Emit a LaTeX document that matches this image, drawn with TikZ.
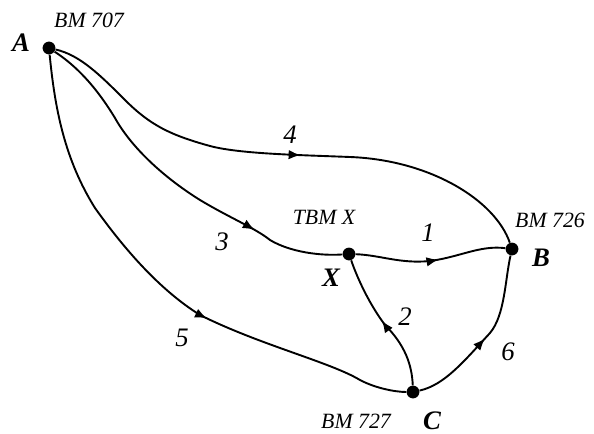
\documentclass[tikz,border=0pt]{standalone}
\usepackage{fontspec}
\setmainfont{Liberation Serif}
\usetikzlibrary{arrows.meta,decorations.markings}

\begin{document}
\begin{tikzpicture}[x=0.025cm,y=-0.025cm,>=Latex,
 pt/.style={circle,fill=black,inner sep=0pt,minimum size=0.32cm},
 bm/.style={font=\fontsize{15.5}{18}\selectfont\itshape,inner sep=0.5pt},
 num/.style={font=\fontsize{19}{22}\selectfont\itshape,inner sep=0.5pt},
 ltr/.style={font=\fontsize{19}{22}\selectfont\bfseries\itshape,inner sep=0.5pt},
 leg/.style={line width=1.35pt,postaction={decorate},
  decoration={markings,mark=at position #1 with {\arrow{Latex[length=3mm,width=2.4mm]}}}}]
\useasboundingbox (0,0) rectangle (594,434);
% stations
\node[pt] (A) at (49,48) {};
\node[pt] (X) at (349,254) {};
\node[pt] (B) at (512,249) {};
\node[pt] (C) at (413,392) {};
\node[ltr] (lA) at (21,43) {A};
\node[ltr] (lX) at (331,278) {X};
\node[ltr] (lB) at (541,258) {B};
\node[ltr] (lC) at (432,421) {C};
\node[bm] (nA) at (89,20) {BM 707};
\node[bm] (nX) at (324,217) {TBM X};
\node[bm] (nB) at (550,220) {BM 726};
\node[bm] (nC) at (356,421) {BM 727};
% lines
\draw[leg=0.535] (A) .. controls (80,55) and (100,75) .. (125,100)
  .. controls (150,125) and (170,135) .. (210,146)
  .. controls (240,154) and (300,155) .. (350,157)
  .. controls (430,160) and (495,200) .. (B);
\draw[leg=0.745] (A) .. controls (75,65) and (95,85) .. (115,118)
  .. controls (130,145) and (160,175) .. (200,200)
  .. controls (230,218) and (255,228) .. (270,240)
  .. controls (290,252) and (320,256) .. (X);
\draw[leg=0.6] (A) .. controls (55,110) and (65,160) .. (95,208)
  .. controls (125,250) and (160,290) .. (200,315)
  .. controls (260,345) and (330,362) .. (360,380)
  .. controls (375,388) and (395,392) .. (C);
\draw[leg=0.55] (X) .. controls (380,255) and (400,264) .. (430,261)
  .. controls (460,257) and (480,245) .. (B);
\draw[leg=0.52] (C) .. controls (412,365) and (405,345) .. (385,325)
  .. controls (370,305) and (358,280) .. (X);
\draw[leg=0.49] (C) .. controls (445,385) and (465,360) .. (490,333)
  .. controls (505,315) and (505,280) .. (B);
% leg numbers
\node[num] (n1) at (428,233) {1};
\node[num] (n2) at (405,317) {2};
\node[num] (n3) at (222,242) {3};
\node[num] (n4) at (290,135) {4};
\node[num] (n5) at (182,338) {5};
\node[num] (n6) at (508,352) {6};
\end{tikzpicture}
\end{document}
